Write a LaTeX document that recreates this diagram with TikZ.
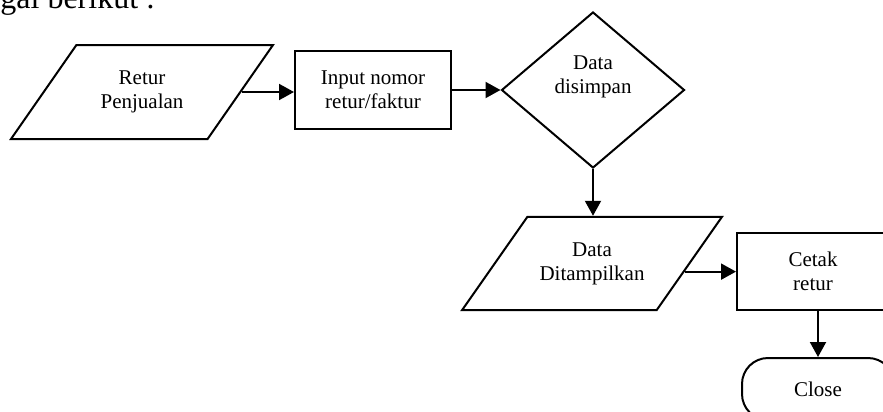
\documentclass[tikz,border=0pt]{standalone}
\usepackage{fontspec}
\setmainfont{Liberation Serif}
\usetikzlibrary{arrows.meta,positioning,calc,shapes.geometric}

\begin{document}
\begin{tikzpicture}[x=0.5pt, y=-0.5pt,
  every node/.style={font=\fontsize{10.5}{12}\selectfont, align=center},
  iobox/.style={trapezium, draw, line width=1pt, trapezium left angle=55,
              trapezium right angle=125, trapezium stretches body,
              minimum width=131pt, minimum height=47pt,
              inner xsep=0pt, inner ysep=12.8pt},
  procbox/.style={rectangle, draw, line width=1pt, inner sep=0pt},
  decbox/.style={diamond, draw, line width=1pt, inner sep=0pt,
              minimum width=91.5pt, minimum height=78pt},
  termbox/.style={rectangle, draw, line width=1pt, rounded corners=13pt,
              minimum width=76pt, minimum height=31pt, inner sep=0pt},
  arr/.style={-{Triangle[length=7.5pt, width=8pt]}, line width=1pt},
]
  \useasboundingbox (0,0) rectangle (883,412);
  \node[anchor=base west, inner sep=0pt, font=\fontsize{16}{19}\selectfont]
    (intro) at (0,9) {gai berikut :};
  \node[iobox] (retur) at (142,92) {Retur\\Penjualan};
  \node[procbox, minimum width=78pt, minimum height=39pt] (input) at (373,90)
    {Input nomor\\retur/faktur};
  \node[decbox] (simpan) at (593,90) {};
  \node (simpantxt) at (593,77) {Data\\disimpan};
  \node[iobox, minimum width=130pt, minimum height=46.5pt] (tampil) at (592,263.5)
    {Data\\Ditampilkan};
  \node[procbox, minimum width=76pt, minimum height=38.5pt] (cetak) at (813,271.5)
    {Cetak\\retur};
  \node[termbox] (close) at (818,389) {Close};
  % arrows
  \draw[arr] (retur.east) -- (retur.east -| input.west);
  \draw[arr] (input.east) -- (simpan.west);
  \draw[arr] (simpan.south) -- (tampil.north -| simpan.south);
  \draw[arr] (tampil.-5) -- (tampil.-5 -| cetak.west);
  \draw[arr] (cetak.south -| close.north) -- (close.north);
\end{tikzpicture}
\end{document}
